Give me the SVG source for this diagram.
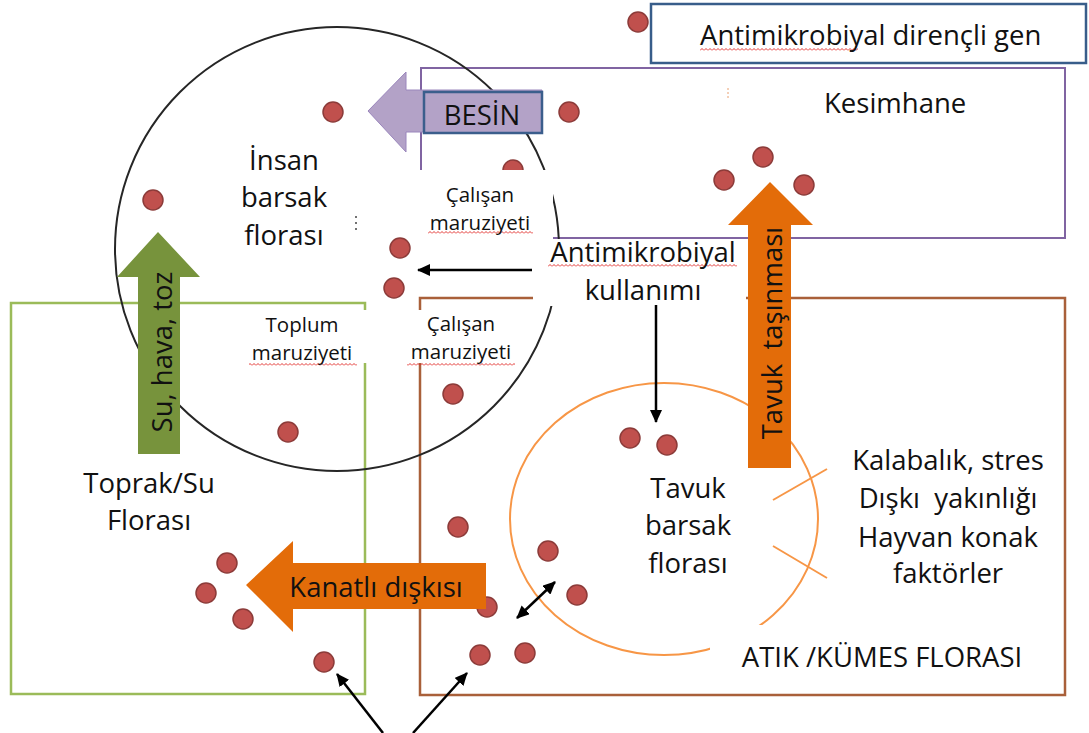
<svg xmlns="http://www.w3.org/2000/svg" width="1089" height="733" viewBox="0 0 1089 733">
<style>
.t{font-family:"Open Sans","Noto Sans","Liberation Sans",sans-serif;fill:#111;}
.big{font-size:27.5px;}
.sm{font-size:20.5px;}
.mid{text-anchor:middle;}
.dot{fill:#C0504D;stroke:#8C3B39;stroke-width:1.5;}
.conn{stroke:#000;stroke-width:2.5;fill:none;}
.wb{fill:#fff;}
.wavy{fill:url(#wavy);}
</style>
<defs>
<marker id="ah" viewBox="0 0 13 12" markerWidth="13" markerHeight="12" refX="12" refY="6" orient="auto-start-reverse" markerUnits="userSpaceOnUse">
<path d="M0,0 L13,6 L0,12 Z" fill="#000"/>
</marker>
<pattern id="wavy" width="4" height="3" patternUnits="userSpaceOnUse">
<path d="M0,2.5 L2,0.5 L4,2.5" stroke="#E0201E" stroke-width="0.9" fill="none"/>
</pattern>
</defs>

<g id="regions">
<rect id="toprak-box" x="11" y="303" width="354" height="391" fill="none" stroke="#9BBB59" stroke-width="2.5"/>
<rect id="atik-box" x="420" y="298" width="645" height="397" fill="none" stroke="#A9603A" stroke-width="2.5"/>
<rect id="kesimhane-box" x="421" y="68" width="644" height="170" fill="none" stroke="#8064A2" stroke-width="2"/>
<rect id="legend-box" x="651" y="4" width="435" height="59" fill="#fff" stroke="#385D8A" stroke-width="2.5"/>
</g>

<g id="insan-circle">
<circle cx="337" cy="249" r="222" fill="none" stroke="#262626" stroke-width="2"/>
</g>

<g id="tavuk-ellipse">
<ellipse cx="664" cy="519" rx="154" ry="136" fill="none" stroke="#F79646" stroke-width="2"/>
<line x1="773" y1="500" x2="827" y2="469" stroke="#F79646" stroke-width="2"/>
<line x1="773" y1="546" x2="827" y2="578" stroke="#F79646" stroke-width="2"/>
</g>

<g id="dots">
<circle class="dot" cx="638" cy="22" r="10"/>
<circle class="dot" cx="333" cy="112" r="10"/>
<circle class="dot" cx="569" cy="112" r="10"/>
<circle class="dot" cx="513" cy="170" r="10"/>
<circle class="dot" cx="153" cy="200" r="10"/>
<circle class="dot" cx="400" cy="248" r="10"/>
<circle class="dot" cx="394" cy="288" r="10"/>
<circle class="dot" cx="763" cy="157" r="10"/>
<circle class="dot" cx="724" cy="180" r="10"/>
<circle class="dot" cx="804" cy="185" r="10"/>
<circle class="dot" cx="453" cy="394" r="10"/>
<circle class="dot" cx="630" cy="438" r="10"/>
<circle class="dot" cx="667" cy="445" r="10"/>
<circle class="dot" cx="288" cy="432" r="10"/>
<circle class="dot" cx="458" cy="527" r="10"/>
<circle class="dot" cx="548" cy="551" r="10"/>
<circle class="dot" cx="577" cy="595" r="10"/>
<circle class="dot" cx="227" cy="563" r="10"/>
<circle class="dot" cx="206" cy="593" r="10"/>
<circle class="dot" cx="243" cy="619" r="10"/>
<circle class="dot" cx="487" cy="607" r="10"/>
<circle class="dot" cx="324" cy="662" r="10"/>
<circle class="dot" cx="480" cy="655" r="10"/>
<circle class="dot" cx="525" cy="653" r="10"/>
</g>

<g id="label-backgrounds">
<rect class="wb" x="406" y="170" width="147" height="69"/>
<rect class="wb" x="533" y="239" width="213" height="67"/>
<rect class="wb" x="245" y="310" width="123" height="53"/>
<rect class="wb" x="405" y="310" width="120" height="53"/>
<rect class="wb" x="710" y="625" width="320" height="55"/>
</g>

<g id="block-arrows">
<polygon id="arrow-su" points="138,454 138,277 117,277 158,232 200,277 180,277 180,454" fill="#77933C"/>
<polygon id="arrow-tavuk" points="748,468 748,225 728,225 770,182 813,225 791,225 791,468" fill="#E36C09"/>
<polygon id="arrow-besin" points="542,90 406,90 406,72 368,111 406,152 406,132 542,132" fill="#B3A2C7" stroke="#9A86BC" stroke-width="1"/>
<rect id="besin-box" x="424" y="92" width="118" height="41" fill="#B3A2C7" stroke="#3B5E8C" stroke-width="2.5"/>
<polygon id="arrow-kanatli" points="486,563 293,563 293,541 246,585 293,632 293,609 486,609" fill="#E36C09"/>
</g>

<g id="connectors">
<line class="conn" x1="532" y1="270" x2="418" y2="270" marker-end="url(#ah)"/>
<line class="conn" x1="656" y1="305" x2="656" y2="422" marker-end="url(#ah)"/>
<line class="conn" x1="517" y1="618" x2="555" y2="582" marker-start="url(#ah)" marker-end="url(#ah)"/>
<line class="conn" x1="383" y1="733" x2="337" y2="674" marker-end="url(#ah)"/>
<line class="conn" x1="413" y1="733" x2="467" y2="673" marker-end="url(#ah)"/>
</g>

<g id="spell-marks">
<rect class="wavy" x="700" y="48" width="158" height="3"/>
<rect class="wavy" x="428" y="231" width="105" height="3"/>
<rect class="wavy" x="548" y="264" width="189" height="3"/>
<rect class="wavy" x="249" y="363" width="108" height="3"/>
<rect class="wavy" x="407" y="363" width="108" height="3"/>
<line x1="356" y1="216" x2="356" y2="234" stroke="#444" stroke-width="1.5" stroke-dasharray="2,4"/>
<line x1="728" y1="88" x2="728" y2="100" stroke="#E9A070" stroke-width="1" stroke-dasharray="2,2"/>
</g>

<g id="texts">
<text class="t big" x="700" y="45" font-size="26.5">Antimikrobiyal dirençli gen</text>
<text class="t big" x="824" y="113">Kesimhane</text>
<text class="t big mid" x="482" y="125">BESİN</text>
<text class="t big mid" x="284" y="170">İnsan</text>
<text class="t big mid" x="284" y="207">barsak</text>
<text class="t big mid" x="284" y="245">florası</text>
<text class="t sm mid" x="480" y="202">Çalışan</text>
<text class="t sm mid" x="480" y="230">maruziyeti</text>
<text class="t big mid" x="643" y="262">Antimikrobiyal</text>
<text class="t big mid" x="643" y="300">kullanımı</text>
<text class="t sm mid" x="302" y="332">Toplum</text>
<text class="t sm mid" x="302" y="360">maruziyeti</text>
<text class="t sm mid" x="461" y="331">Çalışan</text>
<text class="t sm mid" x="461" y="359">maruziyeti</text>
<text class="t big mid" x="149" y="493">Toprak/Su</text>
<text class="t big mid" x="149" y="530">Florası</text>
<text class="t big mid" x="688" y="498">Tavuk</text>
<text class="t big mid" x="688" y="535">barsak</text>
<text class="t big mid" x="688" y="573">florası</text>
<text class="t big mid" x="948" y="470">Kalabalık, stres</text>
<text class="t big mid" x="948" y="508" xml:space="preserve">Dışkı  yakınlığı</text>
<text class="t big mid" x="948" y="547">Hayvan konak</text>
<text class="t big mid" x="948" y="583">faktörler</text>
<text class="t big mid" x="882" y="667">ATIK /KÜMES FLORASI</text>
<text class="t big mid" x="376" y="597">Kanatlı dışkısı</text>
<text class="t big mid" transform="translate(172,352) rotate(-90)">Su, hava, toz</text>
<text class="t big mid" transform="translate(782,333) rotate(-90)" xml:space="preserve">Tavuk  taşınması</text>
</g>
</svg>
